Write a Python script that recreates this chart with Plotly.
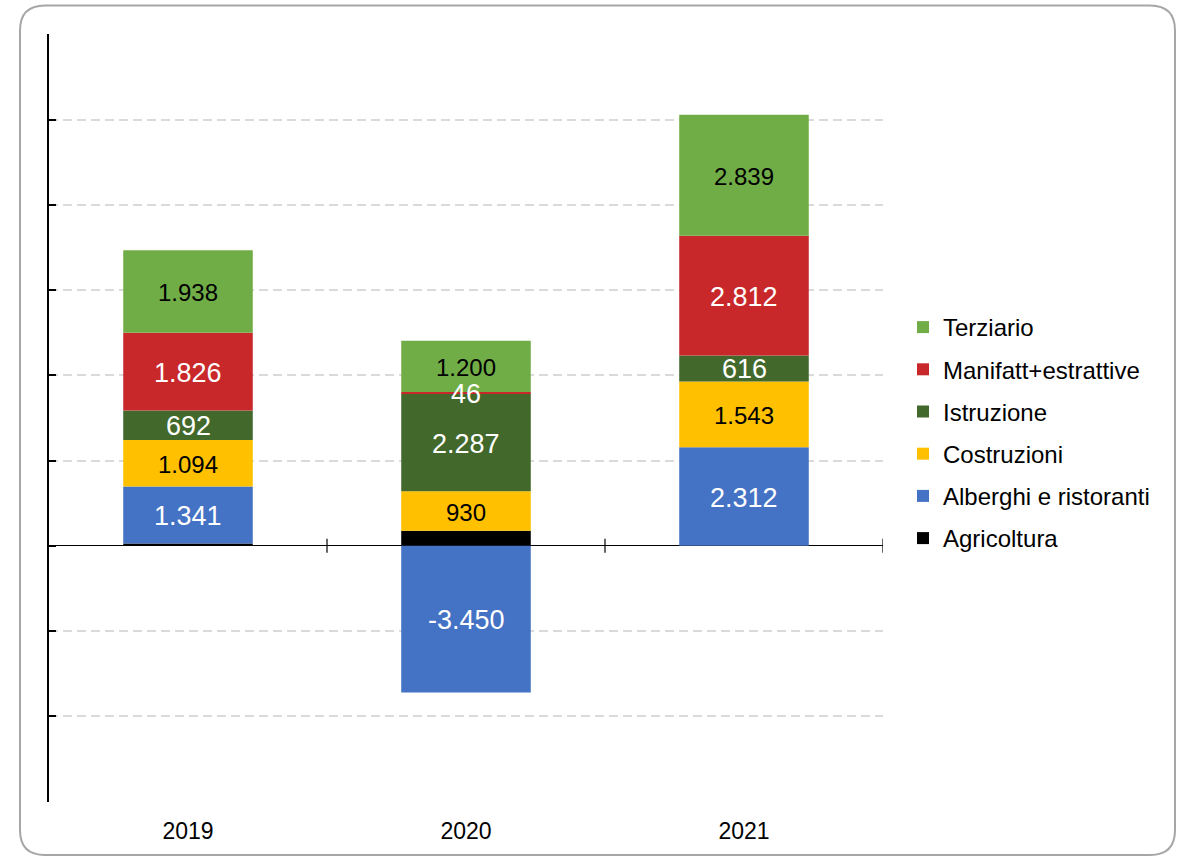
import plotly.graph_objects as go

years = ["2019", "2020", "2021"]
agricoltura = [50, 350, 0]
alberghi = [1341, -3450, 2312]
costruzioni = [1094, 930, 1543]
istruzione = [692, 2287, 616]
manifatt = [1826, 46, 2812]
terziario = [1938, 1200, 2839]

# name, values, bar colour, label colour, label size, show labels
series = [
    ("Agricoltura", agricoltura, "#000000", "#000000", 24, False),
    ("Alberghi e ristoranti", alberghi, "#4472C4", "#FFFFFF", 27, True),
    ("Costruzioni", costruzioni, "#FFC000", "#000000", 24, True),
    ("Istruzione", istruzione, "#43682B", "#FFFFFF", 27, True),
    ("Manifatt+estrattive", manifatt, "#C9282A", "#FFFFFF", 27, True),
    ("Terziario", terziario, "#70AD47", "#000000", 24, True),
]

y_ticks = list(range(-6000, 12001, 2000))
FONT = "Liberation Sans, Arial, sans-serif"


def fmt(v):
    return f"{v:,}".replace(",", ".")


xs = list(range(len(years)))
fig = go.Figure()

pos_base = [0] * len(xs)
neg_base = [0] * len(xs)
annotations = []
n = len(series)
for idx, (name, vals, color, tcolor, tsize, show_text) in enumerate(series):
    fig.add_trace(go.Bar(
        x=xs, y=vals, name=name, legendgroup=name, legendrank=n - idx,
        marker=dict(color=color, line=dict(width=0)),
        hovertemplate="%{y}<extra>" + name + "</extra>",
    ))
    for i, v in enumerate(vals):
        if v >= 0:
            mid = pos_base[i] + v / 2
            pos_base[i] += v
        else:
            mid = neg_base[i] + v / 2
            neg_base[i] += v
        if show_text and v != 0:
            annotations.append(dict(
                x=xs[i], y=mid, xref="x", yref="y", text=fmt(v),
                showarrow=False, xanchor="center", yanchor="middle",
                yshift=-1,
                font=dict(family=FONT, size=tsize, color=tcolor),
            ))

# plot area geometry (px) used for decoration placement
W, H = 1187, 858
L, R, T, B = 49, 304, 34, 56
pw, ph = W - L - R, H - T - B


def px(xp):
    return (xp - L) / pw


def py(yp):
    return (H - B - yp) / ph


x0, x1 = px(20), px(1175)
y0, y1 = py(855), py(5.5)
rx, ry = 25 / pw, 25 / ph
path = (f"M {x0+rx},{y1} L {x1-rx},{y1} Q {x1},{y1} {x1},{y1-ry} "
        f"L {x1},{y0+ry} Q {x1},{y0} {x1-rx},{y0} L {x0+rx},{y0} "
        f"Q {x0},{y0} {x0},{y0+ry} L {x0},{y1-ry} Q {x0},{y1} {x0+rx},{y1} Z")

shapes = [dict(type="path", xref="paper", yref="paper", path=path,
               line=dict(color="#A6A6A6", width=2), layer="below")]
for k in range(len(years)):
    shapes.append(dict(type="line", xref="x", yref="y", x0=k + 0.5, x1=k + 0.5,
                       ysizemode="pixel", yanchor=0, y0=-7, y1=7,
                       line=dict(color="black", width=1.2)))

fig.update_layout(
    width=W, height=H,
    barmode="relative", bargap=0.534,
    plot_bgcolor="white", paper_bgcolor="white",
    margin=dict(l=L, r=R, t=T, b=B, pad=0),
    font=dict(family=FONT, size=24, color="black"),
    shapes=shapes,
    annotations=annotations,
    showlegend=True,
    legend=dict(
        traceorder="grouped", tracegroupgap=8,
        x=px(903), xanchor="left", y=py(433), yanchor="middle",
        font=dict(family=FONT, size=24, color="black"),
        bgcolor="rgba(0,0,0,0)", borderwidth=0,
    ),
    xaxis=dict(
        range=[-0.5, 2.5], tickmode="array", tickvals=xs, ticktext=years,
        showgrid=False, showline=False, zeroline=False, ticks="",
        ticklabelstandoff=13,
        tickfont=dict(family=FONT, size=23, color="black"),
    ),
    yaxis=dict(
        range=[-6020, 12020], tickmode="array", tickvals=y_ticks,
        showticklabels=False, ticks="inside", ticklen=7, tickwidth=1.5,
        tickcolor="black",
        showline=True, linecolor="black", linewidth=1.5,
        showgrid=True, gridcolor="#DADADA", gridwidth=1.5, griddash="9px,5px",
        zeroline=True, zerolinecolor="black", zerolinewidth=1.2,
    ),
)

fig.write_html("out.html", config={"displayModeBar": False},
               post_script="document.body.style.margin='0';")
